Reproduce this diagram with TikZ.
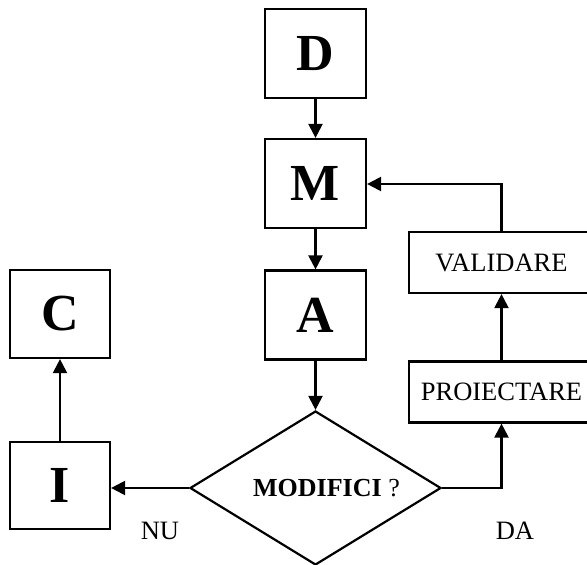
\documentclass[tikz,border=0pt]{standalone}
\usepackage{fontspec}
\setmainfont{Liberation Serif}
\usetikzlibrary{shapes.geometric,arrows.meta}
\begin{document}
\begin{tikzpicture}[x=1pt,y=-1pt,
  line width=2.2pt,
  letterbox/.style={draw,rectangle,minimum width=101pt,minimum height=89pt,inner sep=0pt,
    font=\fontsize{52}{52}\selectfont\bfseries},
  wordbox/.style={draw,rectangle,minimum width=185pt,minimum height=61pt,inner sep=0pt,
    font=\fontsize{26.5}{26.5}\selectfont},
  decision/.style={draw,diamond,aspect=1.63,minimum width=251pt,minimum height=154pt,inner sep=0pt,
    font=\fontsize{26}{26}\selectfont},
  tag/.style={font=\fontsize{26.5}{26.5}\selectfont},
  flow/.style={-{Triangle[length=14pt,width=14pt]}}]
  \useasboundingbox (0,0) rectangle (587,565);

  % main chain
  \node[letterbox] (D) at (315.5,53.5) {D};
  \node[letterbox] (M) at (315.5,183.5) {M};
  \node[letterbox] (A) at (315.5,315) {A};
  \node[decision] (Q) at (315.5,488) {\hspace{22pt}\textbf{MODIFICI} ?};

  % left branch
  \node[letterbox,minimum width=100pt,minimum height=88pt] (C) at (60,314) {C};
  \node[letterbox,minimum width=100pt,minimum height=87pt] (I) at (60,485.5) {I};

  % right branch
  \node[wordbox] (P) at (501.5,392) {PROIECTARE};
  \node[wordbox] (V) at (501.5,262.5) {VALIDARE};

  \node[tag] (nu) at (160,531) {NU};
  \node[tag] (da) at (515,531) {DA};

  % connectors
  \draw[flow] (D) -- (M);
  \draw[flow] (M) -- (A);
  \draw[flow] (A) -- (Q);
  \draw[flow] (Q.west) -- (Q.west -| I.east);
  \draw[flow] (I) -- (C);
  \draw[flow] (Q.east) -| (P);
  \draw[flow] (P) -- (V);
  \draw[flow] (V.north) |- (M.east |- 0,184);
\end{tikzpicture}
\end{document}
